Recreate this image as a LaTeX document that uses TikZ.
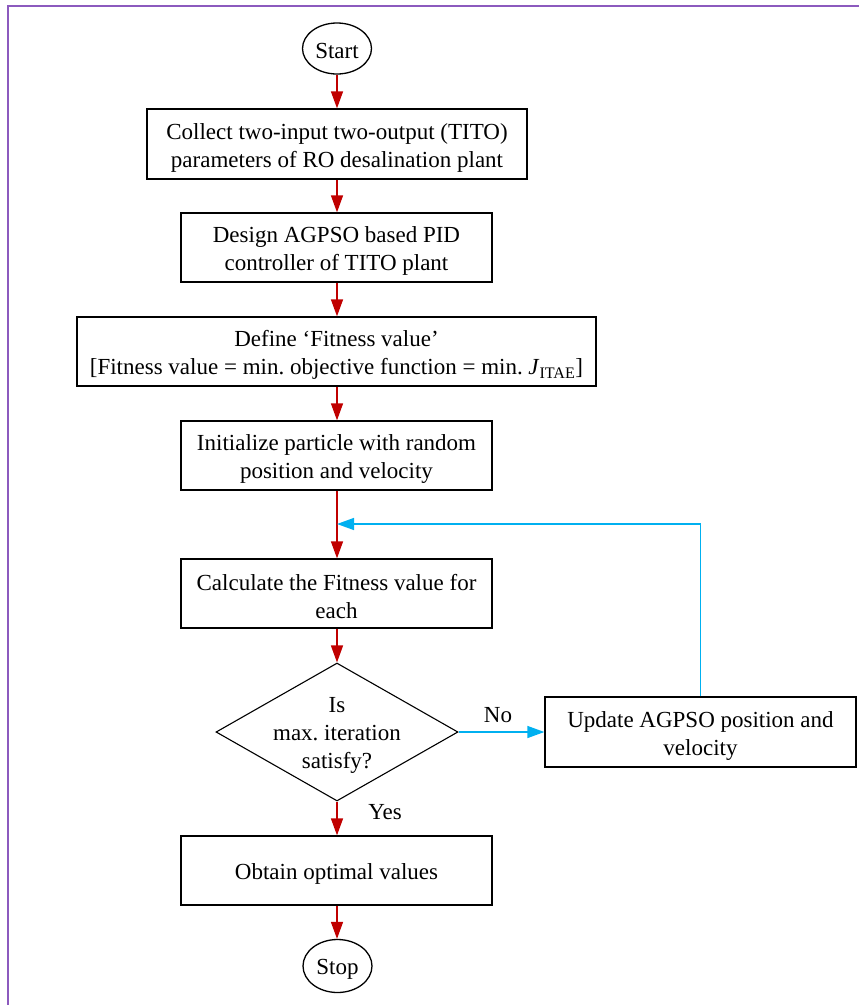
\documentclass[tikz,border=0pt]{standalone}
\usepackage{fontspec}
\setmainfont{Liberation Serif}
\usetikzlibrary{shapes.geometric,arrows.meta}
\definecolor{framecol}{RGB}{140,90,190}
\definecolor{flowred}{RGB}{192,0,0}
\definecolor{loopblue}{RGB}{0,176,240}
\frenchspacing
\begin{document}
\begin{tikzpicture}[x=1pt,y=1pt,
  every node/.style={font=\fontsize{23}{28}\selectfont\frenchspacing},
  txt/.style={align=center,inner sep=0pt,yshift=-3.5pt},
  procbox/.style={draw=black,line width=1.3pt,rectangle,inner sep=0pt},
  termnode/.style={draw=black,line width=1.3pt,ellipse,inner sep=0pt},
  decnode/.style={draw=black,line width=1.1pt,diamond,inner sep=0pt},
  redarrow/.style={draw=flowred,line width=1.4pt,-{Triangle[length=17pt,width=12pt]}},
  bluearrow/.style={draw=loopblue,line width=1.4pt,-{Triangle[length=17pt,width=12pt]}},
  lbl/.style={inner sep=0pt}
]
\useasboundingbox (0,0) rectangle (859,-1005);
\draw[framecol,line width=1.6pt] (8,-1005) -- (8,-6) -- (859,-6);

\node[termnode,minimum width=69pt,minimum height=51pt,
  label={[txt,yshift=1pt]center:Start}] (start) at (337,-48.5) {};
\node[procbox,minimum width=380pt,minimum height=70pt,
  label={[txt]center:Collect two-input two-output (TITO)\\parameters of RO desalination plant}] (b1) at (337,-144) {};
\node[procbox,minimum width=311pt,minimum height=69pt,
  label={[txt]center:Design AGPSO based PID\\controller of TITO plant}] (b2) at (336.5,-247.5) {};
\node[procbox,minimum width=519pt,minimum height=69pt,
  label={[txt]center:Define `Fitness value'\\{}[Fitness value = min. objective function = min. \textit{J}\textsubscript{ITAE}]}] (b3) at (336.5,-351.5) {};
\node[procbox,minimum width=311pt,minimum height=69pt,
  label={[txt]center:Initialize particle with random\\position and velocity}] (b4) at (336.5,-455.5) {};
\node[procbox,minimum width=311pt,minimum height=69pt,
  label={[txt]center:Calculate the Fitness value for\\each}] (b5) at (336.5,-593.5) {};
\node[decnode,minimum width=242pt,minimum height=138pt,
  label={[txt]center:Is\\max. iteration\\satisfy?}] (dec) at (337,-732) {};
\node[procbox,minimum width=311pt,minimum height=70pt,
  label={[txt]center:Update AGPSO position and\\velocity}] (upd) at (700.5,-732) {};
\node[procbox,minimum width=311pt,minimum height=69pt,
  label={[txt]center:Obtain optimal values}] (b6) at (336.5,-870.5) {};
\node[termnode,minimum width=69pt,minimum height=53pt,
  label={[txt]center:Stop}] (stop) at (337.5,-966) {};

\coordinate (join) at (337,-524);

\draw[redarrow] (start.south) -- (start.south |- b1.north);
\draw[redarrow] (b1.south -| start.south) -- (start.south |- b2.north);
\draw[redarrow] (b2.south -| start.south) -- (start.south |- b3.north);
\draw[redarrow] (b3.south -| start.south) -- (start.south |- b4.north);
\draw[redarrow] (b4.south -| start.south) -- (start.south |- b5.north);
\draw[redarrow] (b5.south -| start.south) -- (dec.north);
\draw[redarrow] (dec.south) -- (start.south |- b6.north);
\draw[redarrow] (b6.south -| start.south) -- (start.south |- stop.north);

\draw[bluearrow] (dec.east) -- (upd.west);
\draw[bluearrow] (upd.north) -- (upd.north |- join) -- (join);

\node[lbl] (nolbl) at (498,-715) {No};
\node[lbl] (yeslbl) at (385,-812) {Yes};
\end{tikzpicture}
\end{document}
